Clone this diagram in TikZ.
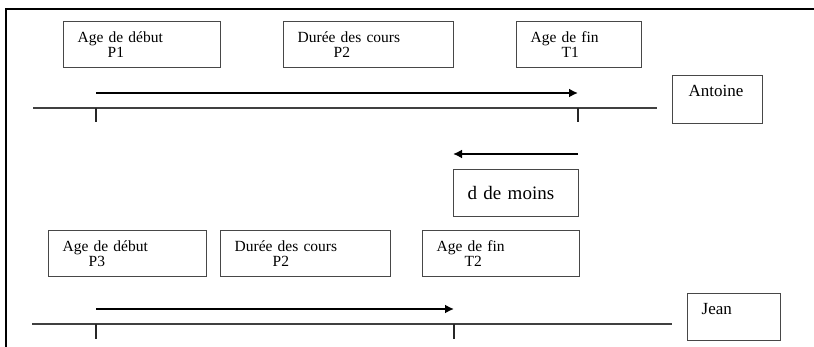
\documentclass[tikz,border=0pt]{standalone}
\usepackage{fontspec}
\setmainfont{Liberation Serif}
\usetikzlibrary{arrows.meta}
\begin{document}
\begin{tikzpicture}[x=1pt,y=-1pt,
  box/.style={draw=black!72, line width=1.3pt, align=left, anchor=north west,
    inner xsep=14pt, inner ysep=0pt, font=\fontsize{15.5}{15}\selectfont},
  namebox/.style={box, inner xsep=16pt, font=\fontsize{17}{17}\selectfont},
  bigbox/.style={box, font=\fontsize{19}{19}\selectfont},
  timeline/.style={draw=black!75, line width=1.2pt},
  tick/.style={draw=black!85, line width=1.8pt},
  bigarrow/.style={draw=black, line width=2.2pt, -{Latex[length=9pt,width=9pt]}},
  frame/.style={draw=black, line width=2pt}
]
\useasboundingbox (0,0) rectangle (814,347);
% frame
\coordinate (fbl) at (6,347);
\coordinate (ftl) at (6,9);
\coordinate (ftr) at (814,9);
\draw[frame] (fbl) -- (ftl) -- (ftr);

% ---------- Antoine ----------
\node[box, text width=129pt, minimum height=46pt] (b1) at (63,21) {Age de début\\\hspace*{30pt}P1};
\node[box, text width=142pt, minimum height=46pt] (b2) at (283,21) {Durée des cours\\\hspace*{36pt}P2};
\node[box, text width=97pt, minimum height=46pt] (b3) at (516,21) {Age de fin\\\hspace*{31pt}T1};
\node[namebox, text width=58pt, minimum height=48pt] (antoine) at (672,75) {Antoine\\\mbox{}};

\coordinate (a1s) at (96,93);
\coordinate (a1e) at (578,93);
\draw[bigarrow] (a1s) -- (a1e);

\coordinate (l1s) at (33,108);
\coordinate (l1e) at (657,108);
\draw[timeline] (l1s) -- (l1e);
\coordinate (t1a) at (96,108);
\coordinate (t1b) at (96,122);
\coordinate (t2a) at (578,108);
\coordinate (t2b) at (578,122);
\draw[tick] (t1a) -- (t1b);
\draw[tick] (t2a) -- (t2b);

% ---------- d de moins ----------
\coordinate (dms) at (578,154);
\coordinate (dme) at (453,154);
\draw[bigarrow] (dms) -- (dme);
\node[bigbox, text width=97pt, minimum height=47pt] (dmoins) at (453,169) {d de moins};

% ---------- Jean ----------
\node[box, text width=130pt, minimum height=46pt] (b4) at (48,230) {Age de début\\\hspace*{26pt}P3};
\node[box, text width=142pt, minimum height=46pt] (b5) at (220,230) {Durée des cours\\\hspace*{38pt}P2};
\node[box, text width=129pt, minimum height=46pt] (b6) at (422,230) {Age de fin\\\hspace*{28pt}T2};
\node[namebox, inner xsep=14pt, text width=65pt, minimum height=47pt] (jean) at (687,293) {Jean\\\mbox{}};

\coordinate (a2s) at (96,309);
\coordinate (a2e) at (454,309);
\draw[bigarrow] (a2s) -- (a2e);

\coordinate (l2s) at (32,324);
\coordinate (l2e) at (672,324);
\draw[timeline] (l2s) -- (l2e);
\coordinate (t3a) at (96,324);
\coordinate (t3b) at (96,339);
\coordinate (t4a) at (454,324);
\coordinate (t4b) at (454,339);
\draw[tick] (t3a) -- (t3b);
\draw[tick] (t4a) -- (t4b);
\end{tikzpicture}
\end{document}
